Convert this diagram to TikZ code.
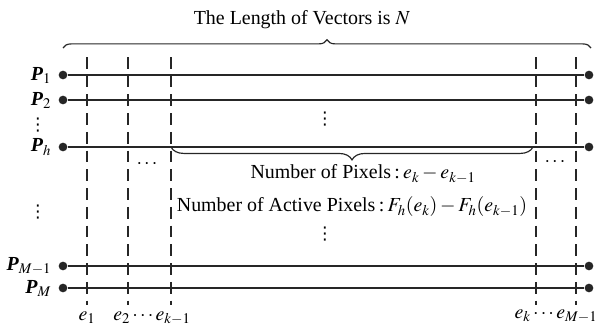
\documentclass[tikz,border=0pt]{standalone}
\usepackage{mathptmx}
\usepackage{fontspec}
\setmainfont{Liberation Serif}
\newfontfamily\symfont{DejaVu Sans}
\usetikzlibrary{positioning,decorations.pathreplacing}

\begin{document}
\begin{tikzpicture}[x=0.03cm,y=-0.03cm,
  font=\fontsize{17}{20}\selectfont,
  pt/.style={circle,fill=black!85,inner sep=0pt,minimum size=7.4pt},
  vec/.style={line width=1.3pt,black!85},
  cut/.style={line width=1.1pt,black!85,dash pattern=on 10pt off 6pt},
  brc/.style={line width=1pt,black!85,decorate,decoration={brace,amplitude=#1}},
  plab/.style={anchor=east,inner sep=1pt},
  lbl/.style={inner sep=1pt},
  dts/.style={inner sep=0pt,font=\symfont\fontsize{15}{15}\selectfont}]
  \useasboundingbox (0,0) rectangle (603,328);

  % vectors P_1 ... P_M
  \foreach \n/\y/\s in {1/75/1, 2/100/2, h/147/h, m/266/{M-1}, M/288/M}{
    \node[pt] (l\n) at (63,\y) {};
    \node[pt] (r\n) at (589,\y) {};
    \draw[vec] (l\n) -- (r\n);
    \node[plab,left=5pt of l\n] (p\n) {\textbf{\textit{P}}$_{\s}$};
  }

  % cut positions e_i
  \foreach \n/\x in {1/87, 2/128, 3/171, 4/536, 5/576}{
    \coordinate (t\n) at (\x,57);
    \coordinate (b\n) at (\x,305);
    \draw[cut] (t\n) -- (b\n);
  }

  % length of the vectors
  \coordinate (bl) at (63,48);
  \coordinate (br) at (591,48);
  \draw[brc=7pt] (bl) -- (br);
  \node[lbl] (len) at (302,20) {The Length of Vectors is $N$};

  % pixels between e_{k-1} and e_k
  \coordinate (sl) at (171,147);
  \coordinate (sr) at (533,147);
  \draw[brc=11pt] (sr) -- (sl);
  \node[lbl] (npx) at (363,174) {Number of Pixels\,:\,$e_k-e_{k-1}$};
  \node[lbl] (nap) at (352,207) {Number of Active Pixels\,:\,$F_h(e_k)-F_h(e_{k-1})$};

  % dots
  \node[dts] (v1) at (38,125) {⋮};
  \node[dts] (v2) at (38,212) {⋮};
  \node[dts] (v3) at (325,119) {⋮};
  \node[dts] (v4) at (325,234) {⋮};
  \node[lbl] (h1) at (147,164) {$\cdots$};
  \node[lbl] (h2) at (555,162) {$\cdots$};

  % labels of the cuts
  \node[lbl] (e1) at (87,318) {$e_1$};
  \node[lbl] (e2) at (152,318) {$e_2\cdots e_{k-1}$};
  \node[lbl] (e3) at (556,316) {$e_k\cdots e_{M-1}$};
\end{tikzpicture}
\end{document}
